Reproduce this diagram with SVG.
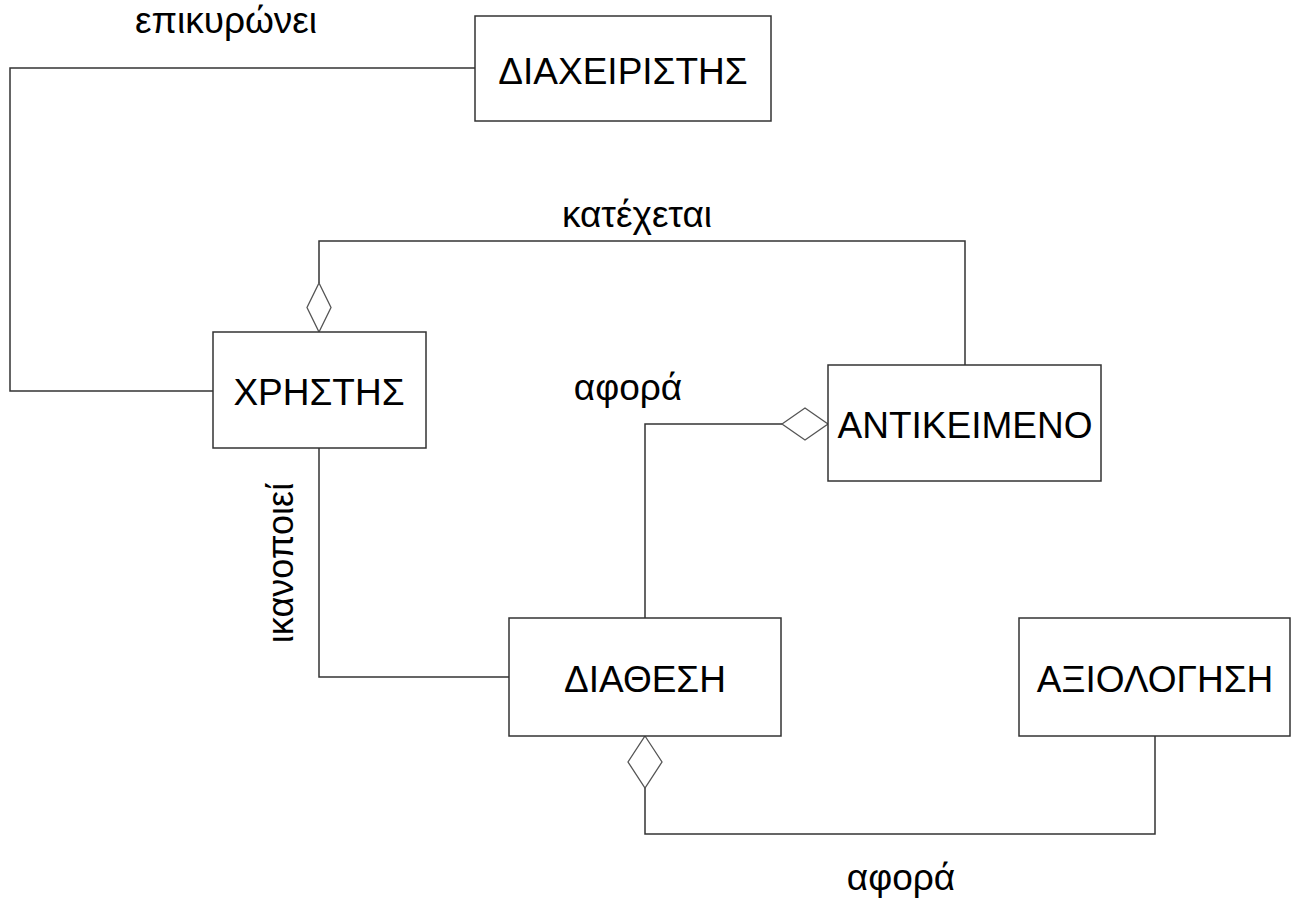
<svg xmlns="http://www.w3.org/2000/svg" width="1297" height="899" viewBox="0 0 1297 899">
<style>
.box{fill:#fff;stroke:#333;stroke-width:1.5}
.lbl{font-family:"Liberation Sans",Arial,sans-serif;font-size:37px;fill:#000;text-anchor:middle}
.rel{font-family:"Liberation Sans",Arial,sans-serif;font-size:37px;fill:#000;text-anchor:middle}
.ln{fill:none;stroke:#333;stroke-width:1.5}
.dia{fill:#fff;stroke:#555;stroke-width:1.3}
</style>
<rect width="1297" height="899" fill="#fff"/>
<g id="connectors">
<polyline class="ln" points="475,68 10,68 10,391 213,391"/>
<polyline class="ln" points="965,365 965,241 319,241 319,283"/>
<polygon class="dia" points="319,283 331,307.5 319,332 307,307.5"/>
<polyline class="ln" points="645,618 645,424 782,424"/>
<polygon class="dia" points="782,424 805,408 828,424 805,440"/>
<polyline class="ln" points="319,448 319,677 509,677"/>
<polyline class="ln" points="645,788 645,834 1155,834 1155,736"/>
<polygon class="dia" points="645,736 662,762 645,788 628,762"/>
<text class="rel" x="226" y="33">επικυρώνει</text>
<text class="rel" x="637" y="227">κατέχεται</text>
<text class="rel" x="628" y="400">αφορά</text>
<text class="rel" style="font-size:36px" transform="translate(293,563) rotate(-90)">ικανοποιεί</text>
<text class="rel" x="901" y="890">αφορά</text>
</g>
<g id="diaxeiristis">
<rect class="box" x="475" y="16" width="296" height="105"/>
<text class="lbl" x="623" y="84">ΔΙΑΧΕΙΡΙΣΤΗΣ</text>
</g>
<g id="xristis">
<rect class="box" x="213" y="332" width="213" height="116"/>
<text class="lbl" x="319" y="405">ΧΡΗΣΤΗΣ</text>
</g>
<g id="antikeimeno">
<rect class="box" x="828" y="365" width="273" height="116"/>
<text class="lbl" x="965" y="438">ΑΝΤΙΚΕΙΜΕΝΟ</text>
</g>
<g id="diathesi">
<rect class="box" x="509" y="618" width="272" height="118"/>
<text class="lbl" x="645" y="692">ΔΙΑΘΕΣΗ</text>
</g>
<g id="axiologisi">
<rect class="box" x="1019" y="618" width="271" height="118"/>
<text class="lbl" x="1155" y="692">ΑΞΙΟΛΟΓΗΣΗ</text>
</g>
</svg>
